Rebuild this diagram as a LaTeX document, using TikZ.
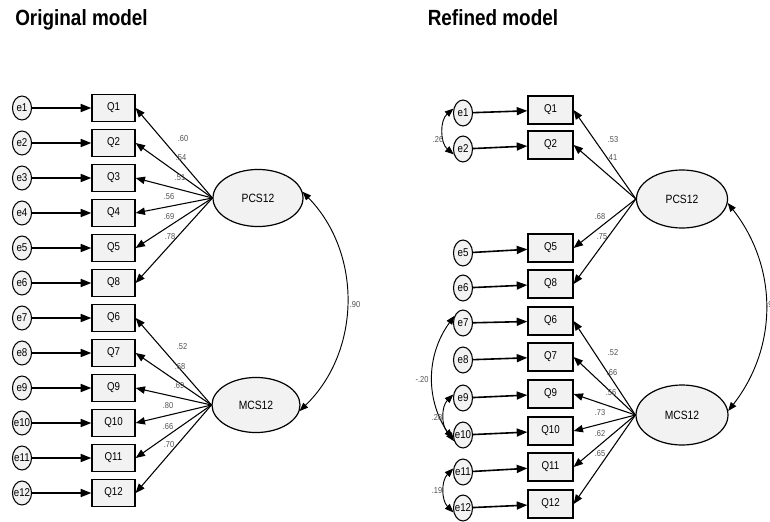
\documentclass[tikz,border=0pt]{standalone}
\usepackage{fontspec}
\setmainfont[FakeStretch=0.86]{Liberation Sans}
\usepackage{xcolor}
\usepackage{tikz}
\usetikzlibrary{arrows.meta,shapes.geometric}
\definecolor{boxfill}{RGB}{242,242,242}
\definecolor{lblgray}{RGB}{80,80,80}

\tikzset{
  err/.style={ellipse, draw, line width=0.8pt, fill=boxfill, minimum width=14.3pt,
    minimum height=18pt, inner sep=0pt, font=\fontsize{8.5}{9}\selectfont},
  item/.style={rectangle, draw, line width=0.9pt, fill=boxfill, minimum width=32.3pt,
    minimum height=20.3pt, inner sep=0pt, font=\fontsize{8.5}{9}\selectfont},
  latent/.style={ellipse, draw, line width=0.9pt, fill=boxfill, minimum width=67.5pt,
    minimum height=42.8pt, inner sep=0pt, font=\fontsize{9}{10}\selectfont},
  resid/.style={-{Triangle[length=8pt,width=6pt]}, line width=1.2pt},
  load/.style={-{Triangle[length=7pt,width=5.5pt]}, line width=0.8pt},
  cov/.style={{Triangle[length=6.5pt,width=5pt]}-{Triangle[length=6.5pt,width=5pt]}, line width=0.7pt},
  lbl/.style={font=\fontsize{6.5}{7}\selectfont, text=lblgray, inner sep=0pt},
  heading/.style={font=\fontsize{16.5}{18}\selectfont\bfseries, inner sep=0pt, anchor=base west}
}

\begin{document}
\begin{tikzpicture}[x=0.75pt, y=-0.75pt]
  \useasboundingbox (0,0) rectangle (770,521);

  % titles
  \node[heading] (torig) at (15,26) {Original model};
  \node[heading] (tref) at (427.5,26) {Refined model};

  % original model
  \node[latent] (pcsL) at (258,198) {PCS12};
  \node[latent, minimum width=66pt, minimum height=41.3pt] (mcsL) at (256,405) {MCS12};
  \foreach \e/\q/\y in {1/1/108, 2/2/143, 3/3/178, 4/4/213, 5/5/248, 6/8/283,
                        7/6/318, 8/7/353, 9/9/388, 10/10/423, 11/11/458, 12/12/493} {
    \node[err] (le\e) at (22,\y) {\makebox[0pt]{e\e}};
    \node[item] (lq\e) at (113.5,\y) {Q\q};
    \draw[resid] (le\e) -- (lq\e);
  }
  \foreach \e/\v/\x/\y in {1/.60/183/139, 2/.54/181/158, 3/.51/180/178,
                           4/.56/169/197, 5/.69/169/217, 6/.78/170/237} {
    \draw[load] (pcsL.west) -- (lq\e.east);
    \node[lbl] (lv\e) at (\x,\y) {\v};
  }
  \foreach \e/\v/\x/\y in {7/.52/182/347, 8/.68/180/367, 9/.69/179/386,
                           10/.80/168/406, 11/.66/168/427, 12/.70/169/445} {
    \draw[load] (mcsL.west) -- (lq\e.east);
    \node[lbl] (lv\e) at (\x,\y) {\v};
  }
  \draw[cov] (pcsL.8) to[bend left=45] (mcsL.-8);
  \node[lbl] (lcov) at (355,305) {.90};

  % refined model
  \node[latent, minimum width=68.3pt, minimum height=43.5pt] (pcsR) at (682,199) {PCS12};
  \node[latent, minimum width=69pt, minimum height=45pt] (mcsR) at (682,415) {MCS12};
  \foreach \e/\q/\ye/\yq in {1/1/113/110, 2/2/149/145, 5/5/253/248, 6/8/288/284,
                             7/6/323/321, 8/7/360/357, 9/9/398/394, 10/10/435/431,
                             11/11/472/467, 12/12/508/504} {
    \node[err, minimum height=19.5pt] (re\e) at (463,\ye) {\makebox[0pt]{e\e}};
    \node[item, minimum width=33.8pt, minimum height=21pt] (rq\e) at (550.5,\yq) {Q\q};
    \draw[resid] (re\e) -- (rq\e);
  }
  \foreach \e/\v/\x/\y in {1/.53/613/140, 2/.41/612/158, 5/.68/600/217, 6/.75/602/237} {
    \draw[load] (pcsR.west) -- (rq\e.east);
    \node[lbl] (rv\e) at (\x,\y) {\v};
  }
  \foreach \e/\v/\x/\y in {7/.52/613/353, 8/.66/612/373, 9/.56/611/393,
                           10/.73/600/413, 11/.62/600/434, 12/.65/600/454} {
    \draw[load] (mcsR.west) -- (rq\e.east);
    \node[lbl] (rv\e) at (\x,\y) {\v};
  }
  \draw[cov] (pcsR.-5) to[bend left=38] (mcsR.5);
  \node[lbl, anchor=west] (rcov) at (766,305) {.90};

  % error covariances
  \draw[cov] (re1.155) to[bend right=50] (re2.210);
  \node[lbl] (c12) at (438,140) {.26};
  \draw[cov] (re7.140) to[bend right=36] (re10.215);
  \node[lbl] (c710) at (422,380) {-.20};
  \draw[cov] (re9.160) to[bend right=45] (re10.195);
  \node[lbl] (c910) at (437,418) {.28};
  \draw[cov] (re11.160) to[bend right=45] (re12.205);
  \node[lbl] (c1112) at (437,491) {.19};
\end{tikzpicture}
\end{document}
